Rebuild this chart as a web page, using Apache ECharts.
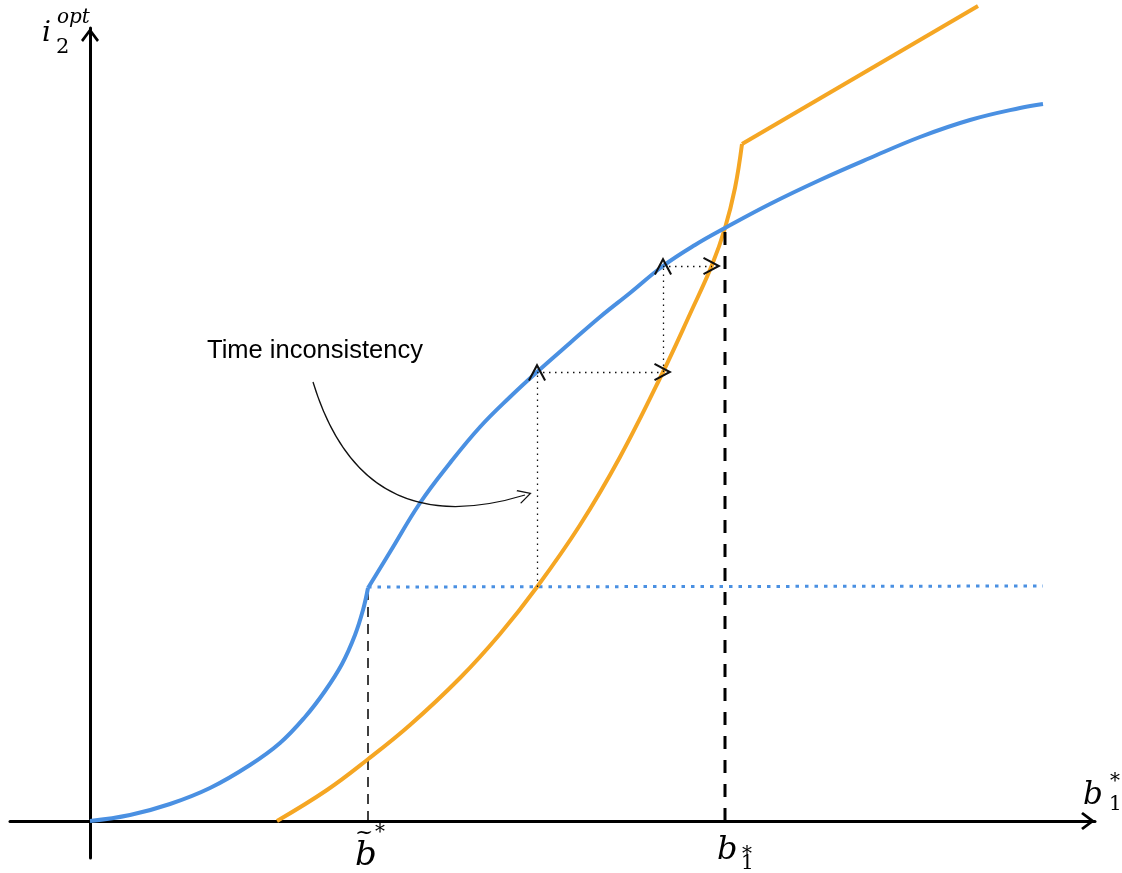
<!DOCTYPE html>
<html><head><meta charset="utf-8">
<script src="https://cdn.jsdelivr.net/npm/echarts/dist/echarts.min.js"></script>
<style>html,body{margin:0;padding:0;background:#fff}#c{width:1122px;height:873px}</style>
</head><body><div id="c"></div>
<script>
// Values (abstract units: origin at the axes' crossing)
const blueLower = [[0,0],[40,6],[80,17],[120,33],[160,56],[190,78],[215,104],[235,130],[252,157],[265,186],[273,211],[278,233]];
const blueUpper = [[278,233],[300,269],[330,318],[360,358],[390,394],[420,424],[447,449],[480,478],[510,504],[540,528],[573,555],[605,576],[635,593],[680,617],[730,641],[780,663],[830,684],[880,701],[930,713],[953,717]];
const orangeCurve = [[187,0],[237,31],[277,61],[320,96],[370,143],[410,187],[447,234],[490,296],[530,364],[573,449],[600,507],[622,556],[635,593],[645,633],[652,677]];
const orangeLine = [[652,677],[888,815]];
const blueFloor = [[278,234],[953,235]];
const bTildeGuide = [[278,0],[278,233]];
const bStarGuide = [[635,0],[635,593]];
const staircase = [
  [[447,234],[447,449]],
  [[447,449],[573,449]],
  [[573,449],[573,555]],
  [[573,555],[622,555]]
];
const noteArrow = [[223,439],[435,326]];
const noteText = 'Time inconsistency';
const xName = ['b', '1', '*'];
const yName = ['i', '2', 'opt'];
const tickTilde = ['~', 'b', '*'];
const tickStar = ['b', '1', '*'];

const BLUE = '#4a90e2', ORANGE = '#f5a623';
const bigChevron = 'path://M9 0L18 12L16 13.8L9 4.5L2 13.8L0 12Z';
const smallChevron = 'path://M5.5 0L11 17L9.9 18L5.5 4.5L1.1 18L0 17Z';
const noteChevron = 'path://M10 0L20 13L18.8 14L10 2.6L1.2 14L0 13Z';

const chart = echarts.init(document.getElementById('c'));
const serif = '"DejaVu Serif", "Liberation Serif", serif';
function t(text, x, y, size, italic) {
  return {type:'text', x:x, y:y, z:100, style:{text:text, font:(italic?'italic ':'')+size+'px '+serif, fill:'#000', align:'left', verticalAlign:'middle'}};
}
const axisCommon = {
  show:true, splitLine:{show:false}, axisTick:{show:false}, axisLabel:{show:false},
  axisLine:{show:true, onZero:true, lineStyle:{color:'#000', width:3}, symbol:['none', bigChevron], symbolSize:[18,14], symbolOffset:[0,-7]}
};
const curve = {type:'line', symbol:'none', smooth:0.4, clip:false};
chart.setOption({
  animation:false,
  grid:{left:10, right:27, top:28, bottom:15},
  xAxis:Object.assign({type:'value', min:-80, max:1005}, axisCommon),
  yAxis:Object.assign({type:'value', min:-37, max:793}, axisCommon),
  graphic:[
    {type:'text', x:207, y:351, z:100, style:{text:noteText, font:'25.5px "Liberation Sans", Arial, sans-serif', fill:'#000', align:'left', verticalAlign:'middle'}},
    t(yName[0], 42, 33.5, 28, true), t(yName[1], 56, 47.5, 21, false), t(yName[2], 57, 18, 20, true),
    t(xName[0], 1083, 796, 31, true), t(xName[1], 1109, 805, 20, false), t(xName[2], 1110, 782, 20, false),
    t(tickTilde[0], 355, 833, 22, false), t(tickTilde[1], 355, 856, 34, true), t(tickTilde[2], 375, 833, 20, false),
    t(tickStar[0], 717, 851, 32, true), t(tickStar[1], 741, 864, 20, false), t(tickStar[2], 742, 855, 20, false)
  ],
  series:[
    {type:'line', data:blueFloor, symbol:'none', clip:false, z:2, lineStyle:{color:BLUE, width:3, type:[3.5,6]}},
    {type:'line', data:bTildeGuide, symbol:'none', clip:false, z:3, lineStyle:{color:'#000', width:1.5, type:[10,7]}},
    Object.assign({data:orangeCurve, z:4, lineStyle:{color:ORANGE, width:4}}, curve),
    {type:'line', data:orangeLine, symbol:'none', clip:false, z:4, lineStyle:{color:ORANGE, width:4}},
    Object.assign({data:blueLower, z:5, lineStyle:{color:BLUE, width:4}}, curve),
    Object.assign({data:blueUpper, z:5, lineStyle:{color:BLUE, width:4}}, curve),
    {type:'line', data:bStarGuide, symbol:'none', clip:false, z:6, lineStyle:{color:'#000', width:3, type:[13,11]}},
    {type:'lines', coordinateSystem:'cartesian2d', z:7, symbol:['none', smallChevron], symbolSize:[11,18], symbolOffset:[0,9],
     lineStyle:{color:'#111', width:1.3, type:[1.5,4.5], opacity:1},
     data:staircase.map(function(s){return {coords:s};})},
    {type:'lines', coordinateSystem:'cartesian2d', z:7, symbol:['none', noteChevron], symbolSize:[20,14], symbolOffset:[0,7],
     lineStyle:{color:'#111', width:1.3, curveness:-0.5, opacity:1},
     data:[{coords:noteArrow}]}
  ]
});
</script></body></html>
